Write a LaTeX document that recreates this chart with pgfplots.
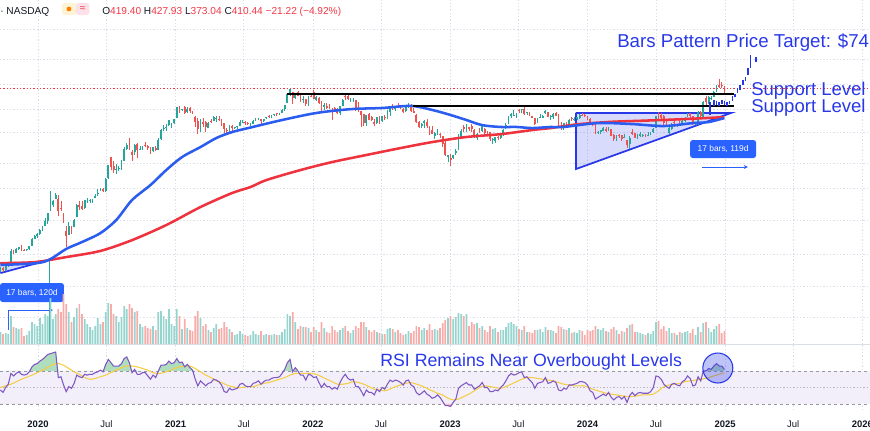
\documentclass[border=0pt]{standalone}
\usepackage{fontspec}
\setmainfont{Liberation Sans}
\usepackage{pgfplots}
\pgfplotsset{compat=1.18}
\usepackage{pgfplotstable}
\usetikzlibrary{arrows.meta}

\definecolor{upc}{RGB}{38,166,154}
\definecolor{dnc}{RGB}{239,83,80}
\definecolor{volup}{RGB}{150,212,206}
\definecolor{voldn}{RGB}{248,172,170}
\definecolor{maBlue}{RGB}{43,92,240}
\definecolor{maRed}{RGB}{238,50,62}
\definecolor{annBlue}{RGB}{40,56,232}
\definecolor{gridc}{RGB}{218,222,232}
\definecolor{darkc}{RGB}{19,23,34}
\definecolor{hdrRed}{RGB}{242,54,69}
\definecolor{rsiLine}{RGB}{126,87,194}
\definecolor{rsiSma}{RGB}{245,205,70}
\definecolor{bandc}{RGB}{242,239,250}
\definecolor{lvlc}{RGB}{150,152,162}
\definecolor{obfill}{RGB}{175,222,190}
\definecolor{osfill}{RGB}{250,190,190}
\definecolor{boxc}{RGB}{41,98,255}

% weekly candles: week index (0 = week of 23 Sep 2019), open, high, low, close, volume (M)
\pgfplotstableread{
i o h l c v
0 16.0 16.4 14.9 16.1 720
1 16.1 16.3 14.9 15.4 600
2 15.4 16.6 15.2 16.5 660
3 16.5 17.4 16.3 17.1 600
4 17.2 22.7 16.9 21.9 1680
5 21.9 22.3 20.5 20.9 1020
6 21.0 22.9 20.9 22.5 960
7 22.5 23.5 22.1 23.5 900
8 23.4 24.1 21.9 22.2 960
9 22.2 22.6 21.8 22.0 480
10 22.0 22.7 21.8 22.4 540
11 22.4 24.0 22.3 23.9 780
12 24.0 27.5 24.0 27.0 1320
13 27.2 29.0 27.2 28.7 1200
14 28.7 30.3 27.5 29.5 1080
15 29.8 32.6 29.3 31.9 1560
16 31.9 34.3 31.2 34.0 1200
17 34.5 39.4 34.4 37.7 1800
18 37.5 43.5 35.5 43.4 1680
19 44.9 64.6 44.8 49.9 2760
20 50.4 55.1 48.3 53.3 1500
21 55.8 61.8 55.6 60.1 1800
22 56.0 60.4 40.8 44.5 2100
23 47.4 54.2 45.0 46.9 1920
24 40.4 43.3 36.3 36.4 3000
25 31.3 34.0 23.4 28.5 2400
26 29.3 37.1 29.3 34.3 1920
27 33.6 34.3 29.8 32.0 1320
28 33.6 39.0 33.4 38.2 1620
29 40.2 50.7 40.0 50.3 2160
30 50.3 53.8 45.9 48.3 2400
31 49.2 53.6 45.7 46.8 1800
32 47.8 55.1 46.5 54.6 1500
33 53.3 56.8 51.8 53.3 1200
34 54.0 55.7 52.3 54.5 1020
35 54.6 56.1 52.0 55.7 840
36 57.0 60.5 56.5 59.0 1080
37 62.1 67.3 58.9 62.3 1560
38 65.9 67.9 64.4 66.7 1200
39 66.9 67.9 63.0 64.0 1320
40 64.3 81.1 63.5 80.6 1920
41 81.6 103.5 79.8 103.0 2460
42 119.0 119.7 94.1 100.0 2400
43 100.9 111.2 89.0 94.5 1800
44 94.4 104.1 87.5 95.4 1680
45 96.4 101.4 93.0 96.8 1320
46 97.6 111.9 94.3 110.0 1620
47 111.8 142.7 111.0 136.7 2280
48 136.8 154.0 134.7 147.6 2100
49 147.0 167.5 135.0 139.4 2400
50 131.0 134.0 110.0 124.2 2160
51 131.0 150.4 124.0 147.4 1920
52 150.0 153.0 117.0 135.8 1980
53 138.0 146.0 135.0 138.4 1200
54 140.0 146.0 135.0 144.7 1020
55 148.0 155.3 144.0 146.6 1080
56 145.0 147.0 136.0 140.2 960
57 141.0 142.0 125.0 129.4 900
58 132.0 144.0 130.0 143.3 1080
59 140.0 146.0 132.0 136.2 840
60 136.0 167.0 134.0 163.2 1920
61 164.0 199.0 162.0 195.3 1980
62 199.0 212.0 189.0 199.7 1680
63 200.0 218.0 189.0 203.3 1500
64 213.0 232.0 207.0 231.7 2100
65 218.0 222.0 200.0 220.6 1200
66 221.0 236.0 215.0 235.2 1080
67 239.0 294.8 239.0 293.3 2100
68 289.0 300.1 266.0 275.4 1680
69 279.0 285.0 273.0 282.2 900
70 292.0 300.1 261.0 264.5 1500
71 271.0 292.0 266.0 284.1 960
72 287.0 292.0 266.0 272.0 840
73 272.0 273.0 258.0 260.4 780
74 244.0 251.0 206.0 225.2 1680
75 230.0 240.0 180.0 199.3 1980
76 200.0 235.0 188.0 231.2 1560
77 224.0 240.0 205.0 218.3 1080
78 225.0 227.0 187.0 206.2 1200
79 202.0 224.0 200.0 220.6 840
80 230.0 236.0 222.0 225.7 720
81 230.0 248.0 227.0 246.6 960
82 240.0 250.0 225.0 243.1 1200
83 238.0 252.0 230.0 236.5 900
84 236.0 238.0 210.0 224.1 960
85 221.0 222.0 183.0 196.6 1320
86 195.0 200.0 182.0 193.6 1020
87 195.0 211.0 188.0 208.4 900
88 209.0 211.0 190.0 199.7 720
89 200.0 206.0 198.0 203.3 540
90 204.0 210.0 196.0 206.9 600
91 207.0 231.0 207.0 224.0 780
92 225.0 233.0 222.0 226.3 600
93 226.0 229.0 211.0 219.0 540
94 219.0 224.0 212.0 214.7 480
95 213.0 219.0 208.0 214.5 540
96 217.0 234.0 216.0 229.1 780
97 233.0 239.0 230.0 233.0 600
98 234.0 240.0 231.0 239.1 540
99 235.0 237.0 215.0 226.8 780
100 228.0 238.0 226.0 237.3 540
101 240.0 246.0 235.0 244.5 600
102 252.0 254.0 240.0 245.4 540
103 247.0 254.0 240.0 253.2 540
104 253.0 260.0 248.0 258.1 600
105 262.0 263.0 250.0 258.4 540
106 261.0 266.0 254.0 261.8 540
107 263.0 282.0 262.0 281.0 720
108 285.0 306.0 275.0 303.2 900
109 316.0 372.0 316.0 371.3 1800
110 381.0 414.5 356.0 407.4 1680
111 386.0 388.0 313.0 344.5 1920
112 347.0 379.0 340.0 379.0 1320
113 385.0 390.0 356.0 360.6 900
114 367.0 381.0 323.0 338.3 1080
115 337.0 356.0 318.0 339.0 1020
116 340.0 341.0 300.0 310.9 1020
117 305.0 358.0 300.0 355.7 960
118 358.0 372.0 350.0 352.3 720
119 383.0 402.0 340.0 342.3 1020
120 333.0 361.0 327.0 349.9 840
121 346.0 351.0 311.0 314.6 720
122 311.0 330.0 264.0 282.1 1320
123 293.0 315.0 279.0 307.8 960
124 301.0 316.0 284.0 286.7 720
125 287.0 308.0 283.0 285.7 660
126 278.0 291.0 233.0 270.0 1080
127 291.0 296.0 270.0 279.4 840
128 274.0 287.0 260.0 265.1 720
129 262.0 302.0 254.0 301.8 840
130 302.0 338.0 301.0 336.9 960
131 362.0 371.6 333.0 361.5 1080
132 357.0 365.0 336.0 341.8 780
133 326.0 344.0 324.0 328.3 660
134 335.0 349.0 324.0 335.0 840
135 334.0 336.0 272.0 290.3 1080
136 290.0 320.0 268.0 288.6 960
137 274.0 275.0 206.0 256.5 1320
138 257.0 259.0 206.9 221.3 1320
139 219.0 254.0 208.0 253.2 1020
140 258.0 265.0 232.0 234.5 840
141 245.0 252.0 230.0 232.2 720
142 223.0 235.0 208.0 216.8 840
143 219.0 246.0 216.0 245.7 720
144 244.0 249.0 218.0 227.3 660
145 230.0 252.0 225.0 250.8 600
146 247.0 255.0 233.0 240.1 600
147 240.0 280.0 238.0 272.2 900
148 268.0 298.0 250.0 297.1 960
149 302.0 311.9 281.0 288.2 900
150 284.0 300.4 274.0 300.0 720
151 301.0 314.7 289.0 296.7 840
152 290.0 302.0 284.0 288.1 660
153 282.0 288.0 262.0 270.2 540
154 273.0 300.0 268.0 299.7 600
155 301.0 314.8 291.0 303.4 780
156 306.0 313.0 271.0 275.3 660
157 272.0 288.0 262.0 265.3 780
158 254.0 257.0 222.0 223.1 1080
159 223.0 227.0 203.0 205.0 1020
160 210.0 222.0 202.0 214.4 840
161 219.0 233.0 202.0 228.5 960
162 226.0 237.0 203.0 207.5 840
163 208.0 209.0 177.0 196.0 1200
164 195.0 208.0 180.0 180.2 840
165 175.0 186.0 166.0 182.9 900
166 183.0 198.0 178.0 194.9 840
167 182.0 183.0 169.0 179.1 960
168 174.0 175.0 144.0 150.2 1260
169 154.0 160.0 122.0 123.2 1440
170 119.0 124.0 108.0 123.2 1560
171 118.0 126.0 101.8 113.1 1680
172 118.0 123.5 114.0 122.4 1500
173 128.0 137.5 124.0 133.4 1620
174 136.0 180.7 135.0 177.9 1860
175 168.0 199.0 166.0 190.0 1800
176 204.0 214.0 188.0 196.9 1680
177 194.0 217.6 187.0 208.3 1800
178 204.0 206.0 191.0 196.9 1080
179 208.0 217.0 186.0 197.8 1320
180 194.0 199.0 168.0 173.4 1200
181 167.0 185.0 163.0 180.1 1260
182 199.0 203.0 185.0 190.4 960
183 191.0 208.0 187.0 207.5 1080
184 199.0 202.0 179.0 185.1 840
185 186.0 191.0 180.0 185.0 720
186 187.0 188.0 158.0 165.1 1080
187 164.0 168.0 152.0 164.3 900
188 160.0 171.0 153.0 170.1 960
189 170.0 174.0 163.0 168.0 720
190 167.0 184.0 165.0 180.1 840
191 182.0 198.0 174.0 193.2 840
192 200.0 221.0 197.0 214.0 1020
193 217.0 252.0 215.0 244.4 1260
194 249.0 264.0 240.0 260.5 1320
195 256.0 276.9 248.0 256.6 1200
196 250.0 264.5 241.0 261.8 1080
197 278.0 283.0 262.0 274.4 900
198 279.0 284.0 266.0 281.4 840
199 286.0 299.3 255.0 260.0 1080
200 262.0 269.0 255.0 266.4 720
201 266.0 269.0 252.0 253.9 720
202 251.0 252.0 239.0 242.7 660
203 239.0 240.0 212.0 215.5 840
204 221.0 241.0 220.0 238.6 840
205 243.0 261.0 241.0 245.0 900
206 242.0 256.0 240.0 248.5 720
207 264.0 278.0 258.0 274.4 1020
208 268.0 271.0 244.0 244.9 840
209 247.0 255.0 234.0 250.2 840
210 245.0 263.0 238.0 260.5 780
211 262.0 268.0 251.0 251.1 660
212 250.0 258.0 210.0 212.0 1080
213 210.0 223.0 195.0 207.3 1020
214 204.0 222.0 194.0 220.0 900
215 223.0 226.0 205.0 214.7 840
216 212.0 238.0 210.0 234.3 960
217 240.0 244.0 230.0 235.5 660
218 232.0 246.0 230.0 238.8 720
219 236.0 245.0 231.0 243.8 660
220 240.0 257.0 237.0 253.5 840
221 254.0 265.0 248.0 252.5 780
222 254.0 258.0 245.0 248.5 540
223 250.0 252.0 233.0 237.5 840
224 237.0 243.0 217.0 218.9 780
225 216.0 223.0 207.0 212.2 840
226 211.0 218.0 180.0 183.3 1080
227 185.0 192.0 179.0 187.9 900
228 188.0 194.0 181.0 193.6 840
229 189.0 205.0 189.0 200.0 960
230 196.0 205.0 188.0 192.0 780
231 192.0 204.0 191.0 202.6 720
232 196.0 198.0 173.0 175.3 900
233 177.0 179.0 160.0 163.6 1020
234 170.0 177.0 160.0 170.8 840
235 176.0 180.0 168.0 175.8 600
236 176.0 178.0 160.0 164.9 780
237 170.0 180.0 168.0 171.1 720
238 161.0 162.0 140.0 147.1 960
239 151.0 173.0 138.8 168.3 1140
240 188.0 198.9 176.0 181.2 1200
241 183.0 184.0 168.0 168.5 720
242 167.0 179.0 165.0 177.5 720
243 174.0 186.0 171.0 179.2 660
244 177.0 181.0 170.0 178.1 600
245 178.0 180.0 172.0 177.5 540
246 174.0 188.0 173.0 178.0 660
247 183.0 188.0 178.0 183.0 600
248 186.0 202.0 184.0 197.9 780
249 201.0 252.0 200.0 251.5 1320
250 252.0 271.0 238.0 248.2 1380
251 253.0 265.0 235.0 239.2 900
252 251.0 253.0 212.0 219.8 1080
253 224.0 234.0 205.0 207.7 780
254 185.0 205.0 182.0 200.0 960
255 199.0 220.0 194.0 216.1 660
256 223.0 228.0 205.0 220.3 660
257 214.0 215.0 205.0 214.1 540
258 215.0 233.0 209.0 210.7 720
259 216.0 232.0 212.0 230.3 660
260 229.0 245.0 225.0 238.3 720
261 247.0 262.0 244.0 260.5 780
262 262.0 264.9 243.0 250.1 660
263 249.0 252.0 214.0 217.8 900
264 220.0 225.0 213.0 220.7 540
265 217.0 273.0 212.0 269.2 1020
266 270.0 273.0 242.0 249.0 720
267 244.0 329.0 238.0 321.2 1260
268 346.0 358.6 306.0 320.7 1320
269 311.0 361.9 309.0 352.6 960
270 342.0 357.0 334.0 345.2 720
271 352.0 389.5 351.0 389.2 900
272 396.0 436.3 389.0 436.2 1080
273 441.0 488.5 415.0 421.1 1200
274 435.0 465.3 418.0 431.7 660
275 419.4 427.9 373.0 410.4 780
}\pricedata

% 50-week moving average (blue)
\pgfplotstableread{
i p
0 16.9
14 17.5
19 18.8
25 22.6
31 25.6
38 30.1
44 38.1
50 54.7
57 71.7
63 94.1
69 119
76 142.6
82 167.8
88 187
95 203
107 232.5
120 264
133 283
145 289
156 300
164 279
171 254.5
177 232.5
183 212
190 205
196 205
202 201
209 205
214 205
227 220
240 216
252 208.5
263 220
269 224
275 241
}\maFifty

% 200-week moving average (red)
\pgfplotstableread{
i p
0 17.5
13 17.8
25 19.5
38 21.8
50 26.5
63 34.8
76 48.2
88 62.1
95 69.2
101 78.5
114 94.1
126 108.7
139 123.5
152 140
164 156
177 171
190 180
202 194
209 201
219 215
232 225
245 230
259 236
275 245
}\maTwoHundred

% projected bars pattern (low, high)
\pgfplotstableread{
i l h
269.5 255 322
271 300 334
272 306 330
273 300 322
274 310 334
275 305 325
276 300 320
277 310 330
278 330 360
279 350 375
280 378 415
281 400 440
282 440 475
283 470 510
284 520 600
285 600 753
287 663 726
}\barsproj

% weekly RSI (14)
\pgfplotstableread{
i r
0 47
1 44
2 50
3 54
4 67
5 64
6 67
7 69
8 66
9 65
10 66
11 69
12 75
13 78
14 79
15 82
16 84
17 87
18 90
19 91
20 92
21 93
22 62
23 63
24 53
25 45
26 51
27 49
28 55
29 65
30 63
31 62
32 66
33 65
34 66
35 66
36 68
37 69
38 71
39 69
40 78
41 84
42 80
43 76
44 76
45 76
46 79
47 85
48 87
49 80
50 68
51 72
52 66
53 66
54 68
55 68
56 64
57 60
58 65
59 62
60 70
61 77
62 77
63 78
64 82
65 79
66 80
67 85
68 80
69 81
70 75
71 78
72 74
73 71
74 60
75 52
76 58
77 55
78 52
79 55
80 56
81 60
82 59
83 57
84 53
85 45
86 44
87 49
88 47
89 48
90 49
91 54
92 55
93 52
94 51
95 51
96 55
97 56
98 58
99 54
100 57
101 59
102 59
103 61
104 62
105 62
106 63
107 67
108 72
109 80
110 84
111 69
112 74
113 70
114 65
115 65
116 59
117 66
118 65
119 62
120 63
121 56
122 50
123 55
124 51
125 51
126 48
127 50
128 48
129 56
130 62
131 66
132 61
133 59
134 60
135 51
136 51
137 46
138 40
139 47
140 44
141 44
142 41
143 48
144 45
145 50
146 48
147 54
148 59
149 57
150 59
151 58
152 56
153 53
154 58
155 59
156 53
157 51
158 44
159 41
160 43
161 46
162 42
163 40
164 37
165 38
166 41
167 38
168 33
169 28
170 28
171 27
172 32
173 36
174 49
175 52
176 54
177 56
178 53
179 53
180 48
181 50
182 52
183 56
184 50
185 50
186 45
187 45
188 47
189 46
190 50
191 53
192 58
193 64
194 67
195 65
196 66
197 68
198 69
199 62
200 63
201 59
202 56
203 49
204 55
205 56
206 57
207 62
208 55
209 56
210 58
211 56
212 47
213 46
214 49
215 48
216 53
217 53
218 54
219 55
220 57
221 57
222 56
223 53
224 46
225 44
226 36
227 38
228 40
229 42
230 40
231 44
232 38
233 35
234 38
235 39
236 36
237 39
238 32
239 40
240 44
241 40
242 43
243 44
244 43
245 43
246 43
247 45
248 50
249 64
250 63
251 60
252 54
253 51
254 49
255 54
256 55
257 53
258 52
259 57
260 59
261 64
262 61
263 52
264 53
265 63
266 58
267 70
268 70
269 73
270 72
271 76
272 79
273 76
274 76
275 72
}\rsidata

% 14-week SMA of RSI (yellow)
\pgfplotstableread{
i s
0 50
4 54
8 60
12 65
16 71
20 78
22 79
24 77
26 73
28 69
30 66
32 62
34 60
36 61
38 63
40 65
42 68
44 71
46 74
48 76
50 76
52 75
54 73
56 71
58 68
60 67
62 68
64 70
66 73
68 75
70 76
72 76
74 73
76 69
78 65
80 62
82 58
84 56
86 53
88 51
90 50
92 50
94 51
96 51
98 53
100 55
102 56
104 58
106 60
108 62
110 65
112 67
114 67
116 67
118 67
120 66
122 63
124 60
126 57
128 54
130 54
132 55
134 57
136 56
138 54
140 51
142 48
144 47
146 46
148 48
150 51
152 53
154 55
156 56
158 54
160 52
162 49
164 46
166 43
168 41
170 37
172 35
174 36
176 39
178 42
180 46
182 50
184 52
186 51
188 50
190 49
192 51
194 54
196 57
198 60
200 62
202 62
204 61
206 60
208 59
210 58
212 56
214 54
216 53
218 52
220 52
222 52
224 49
226 47
228 45
230 43
232 42
234 41
236 40
238 39
240 39
242 40
244 41
246 41
248 42
250 46
252 51
254 53
256 54
258 55
260 57
262 58
264 59
266 60
268 61
270 63
272 65
274 67
275 67.5
}\rsisma

\pgfplotsset{
  chartbase/.style={
    scale only axis, width=652.5pt,
    xmin=-0.15, xmax=330.3,
    axis line style={draw=none}, tick style={draw=none},
    xtick={14.286,40.286,66.571,92.429,118.714,144.571,170.857,196.714,223.0,249.0,275.286,301.143,327.429},
    grid style={gridc, dash pattern=on 1pt off 1.5pt, line width=0.4pt},
  },
}

\begin{document}
\begin{tikzpicture}
\useasboundingbox (0,0) rectangle (652.5pt,-322.5pt);

%================ PRICE PANE ================
\begin{axis}[chartbase, at={(0pt,0pt)}, anchor=north west,
  height=258pt, ymode=log, ymin=4.05, ymax=2036,
  xticklabels={}, yticklabels={},
  ytick={6.6,11.6,20.6,38.1,68,107,187,283,446,700,1205},
  xmajorgrids, ymajorgrids, clip=false]

  % triangle patterns
  \addplot[draw=annBlue, line width=1.3pt, fill=annBlue, fill opacity=0.18]
    coordinates {(218.6,264) (277.5,264) (218.6,95.8) (218.6,264)};
  \addplot[draw=annBlue, line width=1.3pt, fill=annBlue, fill opacity=0.18]
    coordinates {(0,17.5) (15,17.7) (0,14.6)};

  % date range tool (left)
  \addplot[upc, line width=0.6pt] coordinates {(18.5,19.2) (18.5,4.05)};
  \addplot[boxc, line width=0.6pt] coordinates {(2.9,7.48) (2.9,5.21)};
  \addplot[boxc, line width=0.6pt, -{Stealth[length=3pt,width=3pt]}] coordinates {(2.9,7.48) (20,7.48)};
  % date range tool (right)
  \addplot[boxc, line width=0.6pt, -{Stealth[length=3pt,width=3pt]}] coordinates {(266.5,99.4) (283.9,99.4)};

  % wicks
  \addplot[draw=none, mark=none, restrict expr to domain={\thisrow{c}-\thisrow{o}}{0:100000},
    error bars/.cd, y dir=plus, y explicit, error mark=none,
    error bar style={draw=upc, line width=0.6pt}]
    table[x=i, y=l, y error expr=\thisrow{h}-\thisrow{l}] {\pricedata};
  \addplot[draw=none, mark=none, restrict expr to domain={\thisrow{o}-\thisrow{c}}{0.0001:100000},
    error bars/.cd, y dir=plus, y explicit, error mark=none,
    error bar style={draw=dnc, line width=0.6pt}]
    table[x=i, y=l, y error expr=\thisrow{h}-\thisrow{l}] {\pricedata};
  % bodies
  \addplot[draw=none, mark=none, restrict expr to domain={\thisrow{c}-\thisrow{o}}{0:100000},
    error bars/.cd, y dir=plus, y explicit, error mark=none,
    error bar style={draw=upc, line width=1.35pt}]
    table[x=i, y=o, y error expr=\thisrow{c}-\thisrow{o}+0.0001] {\pricedata};
  \addplot[draw=none, mark=none, restrict expr to domain={\thisrow{o}-\thisrow{c}}{0.0001:100000},
    error bars/.cd, y dir=plus, y explicit, error mark=none,
    error bar style={draw=dnc, line width=1.35pt}]
    table[x=i, y=c, y error expr=\thisrow{o}-\thisrow{c}] {\pricedata};

  % moving averages
  \addplot[maRed, line width=1.9pt, smooth] table[x=i, y=p] {\maTwoHundred};
  \addplot[maBlue, line width=1.9pt, smooth] table[x=i, y=p] {\maFifty};

  % current price line
  \addplot[hdrRed, line width=0.5pt, dash pattern=on 1pt off 1.5pt] coordinates {(-0.15,410.44) (330.3,410.44)};

  % support levels
  \addplot[black, line width=1.6pt] coordinates {(108.7,372) (278.6,372)};
  \addplot[black, line width=1.6pt] coordinates {(156.7,300) (278.6,300)};

  % projected bars
  \addplot[draw=none, mark=none,
    error bars/.cd, y dir=plus, y explicit, error mark=none,
    error bar style={draw=annBlue, line width=1.1pt}]
    table[x=i, y=l, y error expr=\thisrow{h}-\thisrow{l}] {\barsproj};

  % labels
  \node[anchor=base west, inner sep=0pt, text=annBlue, font=\fontsize{14}{16}\selectfont]
    at (axis cs:234.2,870) {Bars Pattern Price Target: \$74};
  \node[anchor=base west, inner sep=0pt, text=annBlue, font=\fontsize{13.9}{16}\selectfont]
    at (axis cs:285.1,365) {Support Level};
  \node[anchor=base west, inner sep=0pt, text=annBlue, font=\fontsize{13.9}{16}\selectfont]
    at (axis cs:285.1,264) {Support Level};
  \node[fill=boxc, rounded corners=2pt, text=white, inner sep=0pt,
    minimum width=49.5pt, minimum height=13.5pt, font=\fontsize{6.3}{7.5}\selectfont]
    at (axis cs:274.5,137.6) {17 bars, 119d};
  \node[fill=boxc, rounded corners=2pt, text=white, inner sep=0pt,
    minimum width=48pt, minimum height=14.25pt, font=\fontsize{6.3}{7.5}\selectfont]
    at (axis cs:12.0,10.27) {17 bars, 120d};
\end{axis}

%================ VOLUME ================
\begin{axis}[chartbase, at={(0pt,-195pt)}, anchor=north west,
  height=63pt, ymin=0, ymax=5040, hide axis]
  \addplot[ybar, bar width=1.3pt, bar shift=0pt, draw=none, fill=volup,
    restrict expr to domain={\thisrow{c}-\thisrow{o}}{0:100000}]
    table[x=i, y=v] {\pricedata};
  \addplot[ybar, bar width=1.3pt, bar shift=0pt, draw=none, fill=voldn,
    restrict expr to domain={\thisrow{o}-\thisrow{c}}{0.0001:100000}]
    table[x=i, y=v] {\pricedata};
\end{axis}

%================ RSI PANE ================
\begin{axis}[chartbase, at={(0pt,-258pt)}, anchor=north west,
  height=49.5pt, ymin=22.7, ymax=102.7, ytick=\empty,
  xmajorgrids, clip=false,
  xticklabels={\textbf{2020},Jul,\textbf{2021},Jul,\textbf{2022},Jul,\textbf{2023},Jul,\textbf{2024},Jul,\textbf{2025},Jul,\textbf{2026}},
  xticklabel style={anchor=base, yshift=-12.75pt, text=darkc, font=\fontsize{7.1}{8}\selectfont}]

  \addplot[draw=none, fill=bandc] coordinates {(-0.15,30) (330.3,30) (330.3,70) (-0.15,70)};
  \addplot[lvlc, line width=0.5pt, dash pattern=on 2.5pt off 2pt] coordinates {(-0.15,70) (330.3,70)};
  \addplot[lvlc!70, line width=0.4pt, dash pattern=on 1pt off 1.5pt] coordinates {(-0.15,50) (330.3,50)};
  \addplot[lvlc, line width=0.5pt, dash pattern=on 2.5pt off 2pt] coordinates {(-0.15,30) (330.3,30)};

  \addplot[draw=none, fill=obfill] table[x=i, y expr={max(\thisrow{r},70)}] {\rsidata}
    -- (axis cs:275,70) -- (axis cs:0,70) -- cycle;
  \addplot[draw=none, fill=osfill] table[x=i, y expr={min(\thisrow{r},30)}] {\rsidata}
    -- (axis cs:275,30) -- (axis cs:0,30) -- cycle;

  \addplot[rsiSma, line width=0.8pt, smooth] table[x=i, y=s] {\rsisma};
  \addplot[rsiLine, line width=0.8pt] table[x=i, y=r] {\rsidata};

  \draw[gridc, line width=0.6pt] (rel axis cs:0,1) -- (rel axis cs:1,1);

  \draw[annBlue, line width=0.8pt, fill=annBlue, fill opacity=0.3] (axis cs:272.5,73.6) circle[radius=11.25pt];

  \node[anchor=base west, inner sep=0pt, text=annBlue, font=\fontsize{13.3}{15}\selectfont]
    at (axis cs:144.2,76) {RSI Remains Near Overbought Levels};
\end{axis}

%================ HEADER ================
\node[anchor=base west, inner sep=0pt, text=darkc, font=\fontsize{7.6}{9}\selectfont] at (0pt,-10.5pt) {· NASDAQ};
\fill[rounded corners=2pt, fill={rgb,255:red,255;green,243;blue,214}] (46.5pt,-2.25pt) rectangle (57pt,-11.25pt);
\fill[orange] (51.75pt,-6.75pt) circle (1.8pt);
\fill[rounded corners=2pt, fill={rgb,255:red,252;green,226;blue,232}] (57pt,-2.25pt) rectangle (67pt,-11.25pt);
\node[inner sep=0pt, text=hdrRed, font=\fontsize{7.6}{9}\selectfont] at (62pt,-6.75pt) {≈};
\node[anchor=base west, inner sep=0pt, font=\fontsize{7.6}{9}\selectfont] at (76.5pt,-10.5pt)
  {\textcolor{darkc}{O}\textcolor{hdrRed}{419.40} \textcolor{darkc}{H}\textcolor{hdrRed}{427.93} \textcolor{darkc}{L}\textcolor{hdrRed}{373.04} \textcolor{darkc}{C}\textcolor{hdrRed}{410.44} \textcolor{hdrRed}{−21.22 (−4.92\%)}};
\end{tikzpicture}
\end{document}
